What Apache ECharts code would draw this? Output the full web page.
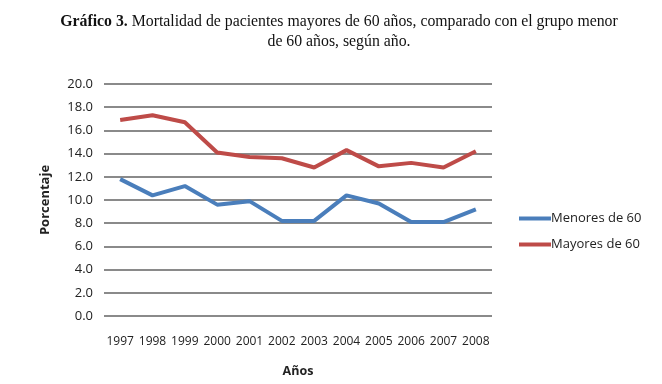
<!DOCTYPE html>
<html>
<head>
<meta charset="utf-8">
<script src="https://cdn.jsdelivr.net/npm/echarts@6/dist/echarts.min.js"></script>
<style>
  html, body { margin: 0; padding: 0; background: #fff; }
  #chart { width: 662px; height: 384px; }
</style>
</head>
<body>
<div id="chart"></div>
<script>
const years = ['1997', '1998', '1999', '2000', '2001', '2002', '2003', '2004', '2005', '2006', '2007', '2008'];
const menores = [11.8, 10.4, 11.2, 9.6, 9.9, 8.2, 8.2, 10.4, 9.7, 8.1, 8.1, 9.2];
const mayores = [16.9, 17.3, 16.7, 14.1, 13.7, 13.6, 12.8, 14.3, 12.9, 13.2, 12.8, 14.2];

const chart = echarts.init(document.getElementById('chart'));
const font = '"Open Sans", sans-serif';

chart.setOption({
  animation: false,
  title: {
    text: '{b|Gráfico 3.} Mortalidad de pacientes mayores de 60 años, comparado con el grupo menor\nde 60 años, según año.',
    left: 334,
    top: 7,
    textAlign: 'center',
    textStyle: {
      fontFamily: '"Liberation Serif", serif',
      fontSize: 15.8,
      fontWeight: 'normal',
      color: '#111',
      lineHeight: 20,
      rich: {
        b: { fontFamily: '"Liberation Serif", serif', fontSize: 15.8, fontWeight: 'bold', color: '#111', lineHeight: 20 }
      }
    }
  },
  legend: {
    orient: 'vertical',
    left: 514,
    top: 207,
    itemWidth: 32,
    itemHeight: 4,
    itemGap: 13,
    icon: 'rect',
    textStyle: { fontFamily: font, fontSize: 13, color: '#222', padding: [0, 0, 0, -5] },
    data: ['Menores de 60', 'Mayores de 60']
  },
  grid: { left: 104, right: 170, top: 84, bottom: 68 },
  xAxis: {
    type: 'category',
    data: years,
    boundaryGap: true,
    axisLine: { show: false },
    axisTick: { show: false },
    axisLabel: { fontFamily: font, fontSize: 12, color: '#222', margin: 20, interval: 0 },
    name: 'Años',
    nameLocation: 'middle',
    nameGap: 49,
    nameTextStyle: { fontFamily: font, fontSize: 12.5, fontWeight: 'bold', color: '#222' }
  },
  yAxis: {
    type: 'value',
    min: 0,
    max: 20,
    interval: 2,
    axisLine: { show: false },
    axisTick: { show: false },
    axisLabel: { fontFamily: font, fontSize: 13, color: '#222', margin: 11, formatter: v => v.toFixed(1) },
    splitLine: { lineStyle: { color: '#8a8a8a', width: 2 } },
    name: 'Porcentaje',
    nameLocation: 'middle',
    nameGap: 52,
    nameTextStyle: { fontFamily: font, fontSize: 13, fontWeight: 'bold', color: '#222' }
  },
  series: [
    {
      name: 'Menores de 60',
      type: 'line',
      data: menores,
      symbol: 'none',
      color: '#4a7ebb',
      lineStyle: { width: 4, color: '#4a7ebb' }
    },
    {
      name: 'Mayores de 60',
      type: 'line',
      data: mayores,
      symbol: 'none',
      color: '#be4b48',
      lineStyle: { width: 4, color: '#be4b48' }
    }
  ]
});
</script>
</body>
</html>
